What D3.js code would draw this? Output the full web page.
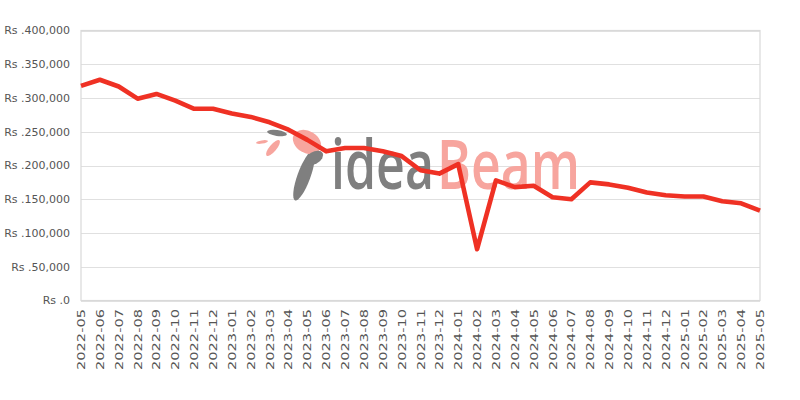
<!DOCTYPE html>
<html><head><meta charset="utf-8">
<script src="https://cdn.jsdelivr.net/npm/d3@7"></script>
<style>body{margin:0;background:#fff}svg{display:block}</style>
</head><body>
<svg id="c" width="800" height="400"></svg>
<script>
const months = ["2022-05","2022-06","2022-07","2022-08","2022-09","2022-10","2022-11","2022-12",
"2023-01","2023-02","2023-03","2023-04","2023-05","2023-06","2023-07","2023-08","2023-09","2023-10","2023-11","2023-12",
"2024-01","2024-02","2024-03","2024-04","2024-05","2024-06","2024-07","2024-08","2024-09","2024-10","2024-11","2024-12",
"2025-01","2025-02","2025-03","2025-04","2025-05"];
const prices = [318000,327000,317000,299000,306000,296000,284000,284000,
277000,272000,264000,253000,238000,221000,226000,226000,221000,214000,193000,188000,
202000,76000,178000,168000,170000,153000,150000,175000,172000,167000,160000,156000,
154000,154000,147000,144000,133000];
const yTicks = [0,50000,100000,150000,200000,250000,300000,350000,400000];

const svg = d3.select("#c");
const L=81,R=760,T=30.5,B=300.5;
const x = d3.scalePoint().domain(months).range([L,R]);
const y = d3.scaleLinear().domain([0,400000]).range([B,T]);

// grid
svg.append("g").selectAll("line").data(yTicks).join("line")
  .attr("x1",L).attr("x2",R).attr("y1",d=>Math.round(y(d))+0.5).attr("y2",d=>Math.round(y(d))+0.5)
  .attr("stroke","#e0e0e0").attr("stroke-width",1);
// frame
svg.append("rect").attr("x",L).attr("y",T).attr("width",R-L).attr("height",B-T)
  .attr("fill","none").attr("stroke","#d9d9d9").attr("stroke-width",1.2);

// watermark
const wm = svg.append("g");
wm.append("ellipse").attr("rx",26).attr("ry",6.5)
  .attr("transform","translate(304,176) rotate(-70)").attr("fill","#7f7f7f");
wm.append("ellipse").attr("rx",15).attr("ry",11)
  .attr("transform","translate(307,142) rotate(30)").attr("fill","#f7a59e");
wm.append("ellipse").attr("rx",10).attr("ry",3)
  .attr("transform","translate(277,133) rotate(8)").attr("fill","#7f7f7f");
wm.append("ellipse").attr("rx",10).attr("ry",3.5)
  .attr("transform","translate(273,148) rotate(-50)").attr("fill","#f7a59e");
wm.append("ellipse").attr("rx",6).attr("ry",1.6)
  .attr("transform","translate(262,142) rotate(-10)").attr("fill","#f7a59e");
wm.append("ellipse").attr("rx",10).attr("ry",6)
  .attr("transform","translate(314,158) rotate(-30)").attr("fill","#7f7f7f");
wm.append("text").attr("x",331).attr("y",189)
  .attr("font-family","'Open Sans',sans-serif").attr("font-size",68).attr("font-weight",600)
  .attr("textLength",103).attr("lengthAdjust","spacingAndGlyphs")
  .attr("fill","#7f7f7f").text("idea");
wm.append("text").attr("x",437).attr("y",189)
  .attr("font-family","'Open Sans',sans-serif").attr("font-size",68).attr("font-weight",600)
  .attr("textLength",143).attr("lengthAdjust","spacingAndGlyphs")
  .attr("fill","#f7a59e").text("Beam");

// y labels
svg.append("g").selectAll("text").data(yTicks).join("text")
  .attr("x",70).attr("y",d=>y(d)).attr("dy","0.35em").attr("text-anchor","end")
  .attr("font-family","'DejaVu Sans',sans-serif").attr("font-size",11).attr("fill","#555")
  .text(d=>"Rs ."+d3.format(",")(d));
// x labels
svg.append("g").selectAll("text").data(months).join("text")
  .attr("transform",d=>`translate(${x(d)+4},309) rotate(-90)`).attr("text-anchor","end")
  .attr("font-family","'DejaVu Sans',sans-serif").attr("font-size",10.5).attr("fill","#555")
  .attr("textLength",61).attr("lengthAdjust","spacingAndGlyphs")
  .text(d=>d);

// line
svg.append("path").datum(prices)
  .attr("d",d3.line().x((d,i)=>x(months[i])).y(d=>y(d)))
  .attr("fill","none").attr("stroke","#ef3124").attr("stroke-width",4.6)
  .attr("stroke-linejoin","round").attr("stroke-linecap","butt");
</script>
</body></html>
